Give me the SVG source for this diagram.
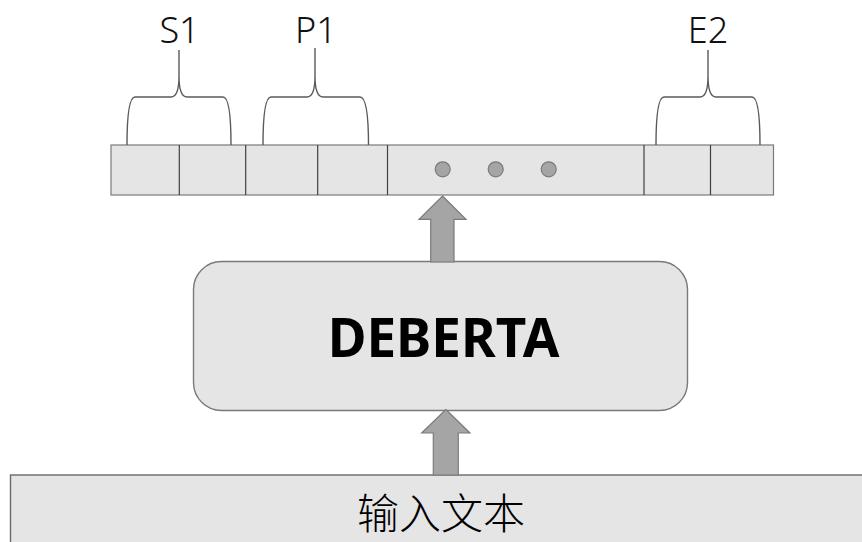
<svg xmlns="http://www.w3.org/2000/svg" width="862" height="542" viewBox="0 0 862 542">
  <style>
    .cell { fill: #e5e5e5; stroke: #7a7a7a; stroke-width: 1.2; }
    .div { stroke: #404040; stroke-width: 1.2; }
    .dot { fill: #a5a5a5; stroke: #7a7a7a; stroke-width: 1.2; }
    .arrow { fill: #a5a5a5; stroke: #7a7a7a; stroke-width: 1.2; stroke-linejoin: miter; }
    .brace { fill: none; stroke: #5a5a5a; stroke-width: 1.4; }
    .lbl { font-family: "Noto Sans", "Liberation Sans", sans-serif; font-weight: 300; font-size: 36px; fill: #111; text-anchor: middle; }
    .title { font-family: "Noto Sans", "Open Sans", sans-serif; font-weight: 700; font-size: 53px; fill: #000; text-anchor: middle; }
    .cjk { font-family: "Noto Sans CJK SC", sans-serif; font-weight: 300; font-size: 42px; fill: #000; text-anchor: middle; }
  </style>

  <g id="input">
    <rect x="10.5" y="475" width="870" height="90" fill="#e5e5e5" stroke="#6a6a6a" stroke-width="1.4"/>
    <text class="cjk" x="441" y="529">输入文本</text>
  </g>

  <g id="deberta">
    <rect x="193.5" y="261.5" width="494" height="149" rx="28" ry="28" fill="#e5e5e5" stroke="#7a7a7a" stroke-width="1.4"/>
    <text class="title" x="443.5" y="356.5">DEBERTA</text>
  </g>

  <g id="tokens">
    <rect class="cell" x="111" y="145" width="662.5" height="50"/>
    <line class="div" x1="179.3" y1="145" x2="179.3" y2="195"/>
    <line class="div" x1="245.7" y1="145" x2="245.7" y2="195"/>
    <line class="div" x1="317.7" y1="145" x2="317.7" y2="195"/>
    <line class="div" x1="387.5" y1="145" x2="387.5" y2="195"/>
    <line class="div" x1="644" y1="145" x2="644" y2="195"/>
    <line class="div" x1="710.5" y1="145" x2="710.5" y2="195"/>
    <circle class="dot" cx="442.7" cy="169.3" r="7.5"/>
    <circle class="dot" cx="495.7" cy="169.3" r="7.5"/>
    <circle class="dot" cx="548.7" cy="169.3" r="7.5"/>
  </g>

  <g id="label-S1">
    <path class="brace" d="M127,145 C127,116 129,97 135,97 L171,97 C176,97 179,90 179,76 L179,50 M179,76 C179,90 182,97 187,97 L223,97 C229,97 231,116 231,145"/>
    <text class="lbl" x="179.5" y="43">S1</text>
  </g>

  <g id="label-P1">
    <path class="brace" d="M263,145 C263,116 265,97 271,97 L307,97 C312,97 315,90 315,76 L315,48 M315,76 C315,90 318,97 323,97 L360,97 C366,97 368.5,116 368.5,145"/>
    <text class="lbl" x="316" y="43">P1</text>
  </g>

  <g id="label-E2">
    <path class="brace" d="M656,145 C656,116 658,97 664,97 L700,97 C705,97 708,90 708,76 L708,50 M708,76 C708,90 711,97 716,97 L752,97 C758,97 760,116 760,145"/>
    <text class="lbl" x="708" y="43">E2</text>
  </g>

  <g id="connectors">
    <path class="arrow" d="M442.5,196 L466,219.3 L454,219.3 L454,262 L430.7,262 L430.7,219.3 L419,219.3 Z"/>
    <path class="arrow" d="M445.8,409.5 L470,433 L458.3,433 L458.3,475 L433.3,475 L433.3,433 L421.7,433 Z"/>
  </g>
</svg>
